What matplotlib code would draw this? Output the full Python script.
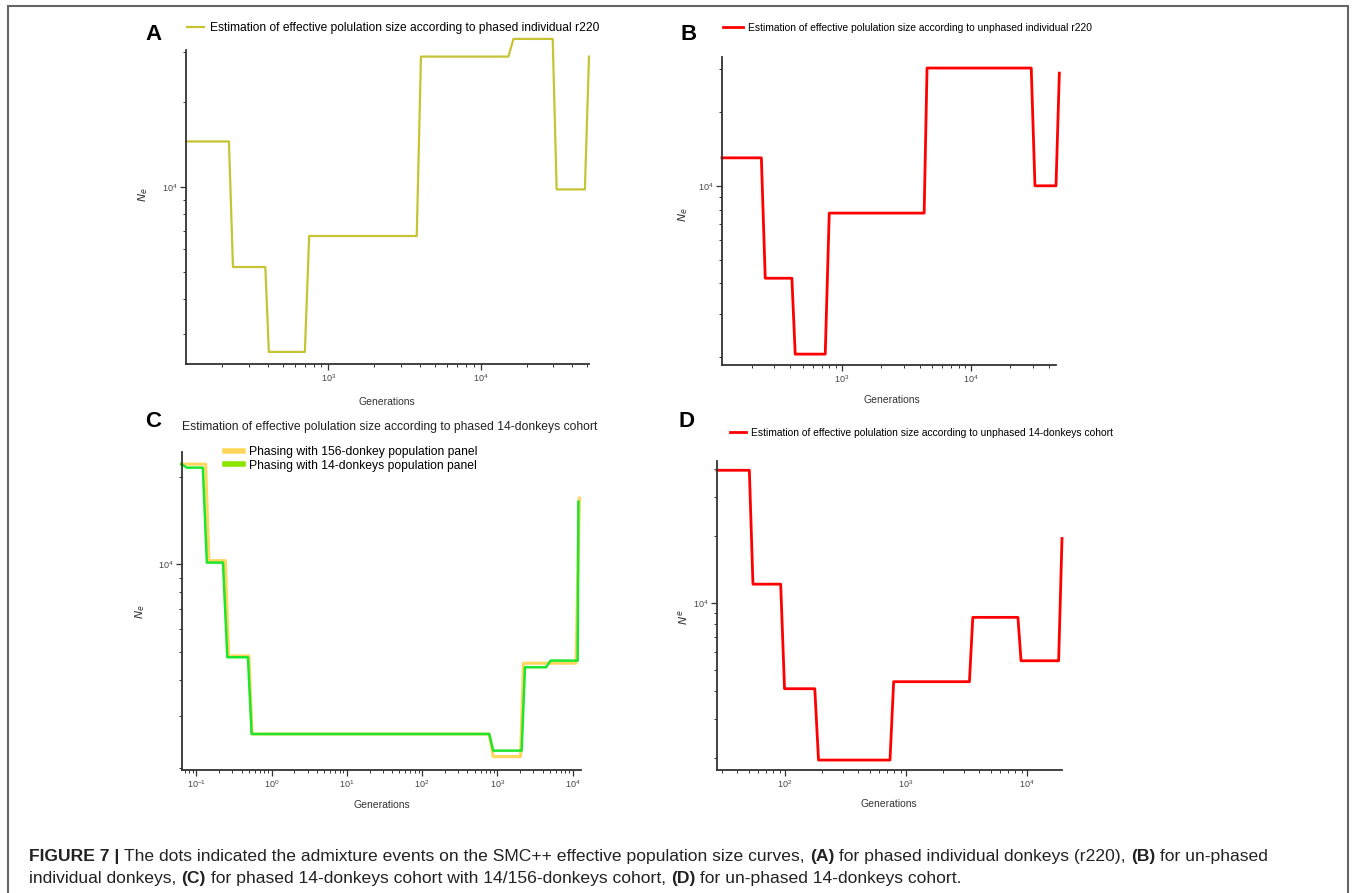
import matplotlib
matplotlib.use("Agg")
import matplotlib.pyplot as plt
from matplotlib.lines import Line2D
from matplotlib.patches import Rectangle
from matplotlib.ticker import LogLocator, NullFormatter

plt.rcParams["font.family"] = ["Liberation Sans", "DejaVu Sans"]

W, H = 1354, 893

# panel A: phased individual r220
gen_a = [116, 222, 236, 385, 406, 700, 747, 3800, 4050, 15200, 16400, 29700, 31500, 48300, 51400]
ne_a = [14500, 14500, 5200, 5200, 2600, 2600, 6700, 6700, 29000, 29000, 33500, 33500, 9800, 9800, 29000]

# panel B: unphased individual r220
gen_b = [118, 238, 255, 410, 435, 743, 798, 4330, 4560, 29200, 31200, 45400, 48200]
ne_b = [13000, 13000, 4200, 4200, 2060, 2060, 7740, 7740, 30200, 30200, 10000, 10000, 28800]

# panel C: phased 14-donkeys cohort, two phasing panels
gen_c156 = [0.063, 0.133, 0.147, 0.243, 0.269, 0.50, 0.55, 778, 880, 2030, 2220, 11070, 12300]
ne_c156 = [22080, 22080, 10290, 10290, 4840, 4840, 2610, 2610, 2183, 2183, 4570, 4570, 16870]
gen_c14 = [0.063, 0.075, 0.122, 0.138, 0.226, 0.258, 0.485, 0.543, 778, 880, 2100, 2323, 4420, 5100, 11650, 11900]
ne_c14 = [22080, 21470, 21470, 10130, 10130, 4790, 4790, 2610, 2610, 2288, 2288, 4425, 4425, 4665, 4665, 16400]

# panel D: unphased 14-donkeys cohort
gen_d = [27.4, 50.7, 54.3, 92, 99, 176, 189, 736, 789, 3335, 3555, 8390, 8900, 18200, 19400]
ne_d = [39600, 39600, 12140, 12140, 4100, 4100, 1955, 1955, 4410, 4410, 8600, 8600, 5480, 5480, 19500]

fig = plt.figure(figsize=(W / 100, H / 100), dpi=100)


def px_axes(x0, y0, x1, y1):
    return fig.add_axes([x0 / W, 1 - y1 / H, (x1 - x0) / W, (y1 - y0) / H])


def style(ax, xlim, ylim, ylab, xlab_pos, ylab_pos):
    ax.set_xscale("log")
    ax.set_yscale("log")
    ax.set_xlim(*xlim)
    ax.set_ylim(*ylim)
    for s in ["top", "right"]:
        ax.spines[s].set_visible(False)
    for s in ["left", "bottom"]:
        ax.spines[s].set_color("#333333")
        ax.spines[s].set_linewidth(1.3)
    ax.xaxis.set_minor_locator(LogLocator(base=10, subs=range(2, 10), numticks=20))
    ax.yaxis.set_minor_locator(LogLocator(base=10, subs=range(2, 10), numticks=20))
    ax.xaxis.set_minor_formatter(NullFormatter())
    ax.yaxis.set_minor_formatter(NullFormatter())
    ax.tick_params(which="major", length=4, width=0.9, color="#333333",
                   labelsize=6.5, labelcolor="#444444", pad=2)
    ax.tick_params(which="minor", length=2.5, width=0.7, color="#333333")
    ax.set_xlabel("Generations", fontsize=7.5, color="#333333")
    ax.set_ylabel(ylab, fontsize=8, color="#333333")
    ax.xaxis.set_label_coords(xlab_pos[0] / W, 1 - xlab_pos[1] / H, transform=fig.transFigure)
    ax.yaxis.set_label_coords(ylab_pos[0] / W, 1 - ylab_pos[1] / H, transform=fig.transFigure)


def top_legend(ax, handles, labels, x, y, size, hl, spacing=0.3):
    ax.legend(handles, labels, loc="center left", bbox_to_anchor=(x / W, 1 - y / H),
              bbox_transform=fig.transFigure, frameon=False, fontsize=size,
              borderaxespad=0, borderpad=0, handlelength=hl, handletextpad=0.5,
              labelspacing=spacing)


# A
ax_a = px_axes(186, 50, 589, 364)
la, = ax_a.plot(gen_a, ne_a, color="#c6c434", lw=1.6, clip_on=False)
style(ax_a, (116, 51400), (2355, 30600), "$N_e$", (387, 397), (150, 195))
top_legend(ax_a, [la], ["Estimation of effective polulation size according to phased individual r220"],
           187, 28, 8.65, 1.4)

# B
ax_b = px_axes(722, 57, 1056, 365)
lb, = ax_b.plot(gen_b, ne_b, color="#ff0000", lw=2.0, clip_on=False)
style(ax_b, (118, 45400), (1860, 33500), "$N_e$", (892, 395), (690, 215))
top_legend(ax_b, [lb], ["Estimation of effective polulation size according to unphased individual r220"],
           723, 28, 7.4, 1.9)

# C
ax_c = px_axes(182, 452, 581, 770)
ax_c.plot(gen_c156, ne_c156, color="#ffd65c", lw=2.2, clip_on=False)
ax_c.plot(gen_c14, ne_c14, color="#1ee62a", lw=1.8, clip_on=False)
style(ax_c, (0.0645, 12900), (1963, 24300), "$N_e$", (382, 800), (147, 612))
proxies = [Line2D([], [], color="#ffd65c", lw=4), Line2D([], [], color="#8ae600", lw=4)]
top_legend(ax_c, proxies, ["Phasing with 156-donkey population panel",
                           "Phasing with 14-donkeys population panel"], 225, 459, 8.75, 1.5, 0.12)
fig.text(182 / W, 1 - 427 / H, "Estimation of effective polulation size according to phased 14-donkeys cohort",
         fontsize=8.7, color="#222222", va="center", ha="left")

# D
ax_d = px_axes(717, 461, 1062, 770)
ld, = ax_d.plot(gen_d, ne_d, color="#ff0000", lw=2.0, clip_on=False)
style(ax_d, (27.4, 19400), (1763, 43600), "$N^e$", (889, 799), (690, 617))
top_legend(ax_d, [ld], ["Estimation of effective polulation size according to unphased 14-donkeys cohort"],
           730, 433, 7.4, 1.55)

# panel letters
for letter, x, y in [("A", 154, 35), ("B", 689, 35), ("C", 153, 421), ("D", 687, 421)]:
    fig.text(x / W, 1 - y / H, letter, fontsize=16, weight="bold", ha="center", va="center")

# outer frame
fig.patches.append(Rectangle((8 / W, -0.02), (1348 - 8) / W, 1.02 - 6 / H,
                             transform=fig.transFigure, fill=False, edgecolor="#666666", lw=1.5))

# caption with bold fragments
renderer = fig.canvas.get_renderer()


def rich_line(parts, x, y, size=12.6):
    for txt, bold in parts:
        t = fig.text(x / W, 1 - y / H, txt, fontsize=size, weight="bold" if bold else "normal",
                     va="center", ha="left", color="#222222")
        bb = t.get_window_extent(renderer=renderer)
        x += bb.width


line1 = [("FIGURE 7 | ", True),
         ("The dots indicated the admixture events on the SMC++ effective population size curves, ", False),
         ("(A)", True), (" for phased individual donkeys (r220), ", False),
         ("(B)", True), (" for un-phased", False)]
line2 = [("individual donkeys, ", False), ("(C)", True),
         (" for phased 14-donkeys cohort with 14/156-donkeys cohort, ", False),
         ("(D)", True), (" for un-phased 14-donkeys cohort.", False)]
rich_line(line1, 29, 857)
rich_line(line2, 29, 878)

fig.savefig("out.png", dpi=100)
